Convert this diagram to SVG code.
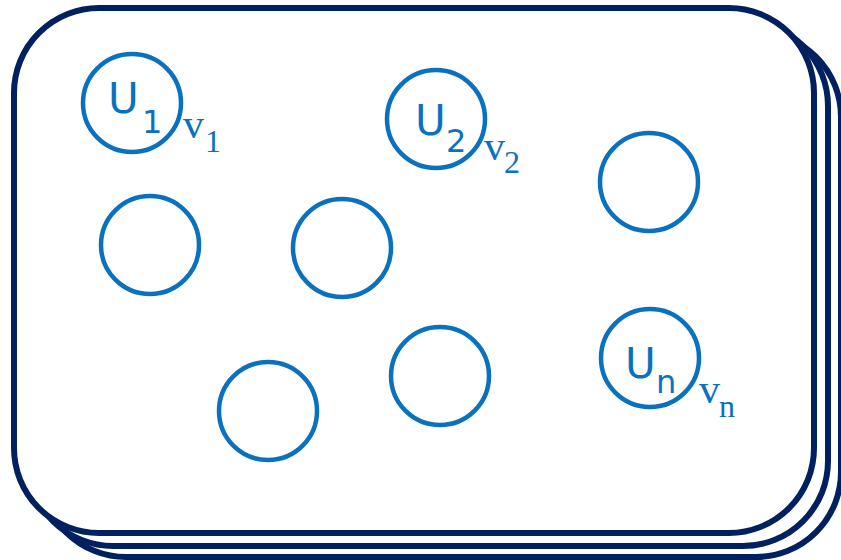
<svg xmlns="http://www.w3.org/2000/svg" width="841" height="560" viewBox="0 0 841 560">
<style>
.card{fill:#fff;stroke:#00205f;stroke-width:6}
.n{fill:none;stroke:#0a71bf;stroke-width:4.5}
.s{font-family:"DejaVu Sans",sans-serif;fill:#0a71bf}
.r{font-family:"Liberation Serif",serif;fill:#0a71bf}
</style>
<rect width="841" height="560" fill="#fff"/>
<g id="stack">
<rect class="card" x="41" y="32" width="800" height="525" rx="85"/>
<rect class="card" x="28" y="21" width="800" height="525" rx="85"/>
<rect class="card" x="14" y="8" width="800" height="525" rx="85"/>
</g>
<g id="u1"><circle class="n" cx="132" cy="103" r="49"/><text class="s" x="108" y="113" font-size="42">U</text><text class="s" x="142" y="133" font-size="32">1</text><text class="r" x="183" y="138" font-size="42">v</text><text class="r" x="205" y="152" font-size="32">1</text></g>
<g id="u2"><circle class="n" cx="436" cy="119" r="49"/><text class="s" x="415" y="135" font-size="42">U</text><text class="s" x="446" y="152" font-size="32">2</text><text class="r" x="484" y="160" font-size="42">v</text><text class="r" x="504" y="173" font-size="32">2</text></g>
<g id="c3"><circle class="n" cx="649" cy="182" r="49"/></g>
<g id="c4"><circle class="n" cx="150" cy="245" r="49"/></g>
<g id="c5"><circle class="n" cx="342" cy="248" r="49"/></g>
<g id="c6"><circle class="n" cx="268" cy="411" r="49"/></g>
<g id="c7"><circle class="n" cx="440" cy="376" r="49"/></g>
<g id="un"><circle class="n" cx="650" cy="358" r="49"/><text class="s" x="625" y="378" font-size="42">U</text><text class="s" x="656" y="393" font-size="32">n</text><text class="r" x="699" y="403" font-size="42">v</text><text class="r" x="719" y="417" font-size="32">n</text></g>
<g id="connectors"></g>
</svg>
